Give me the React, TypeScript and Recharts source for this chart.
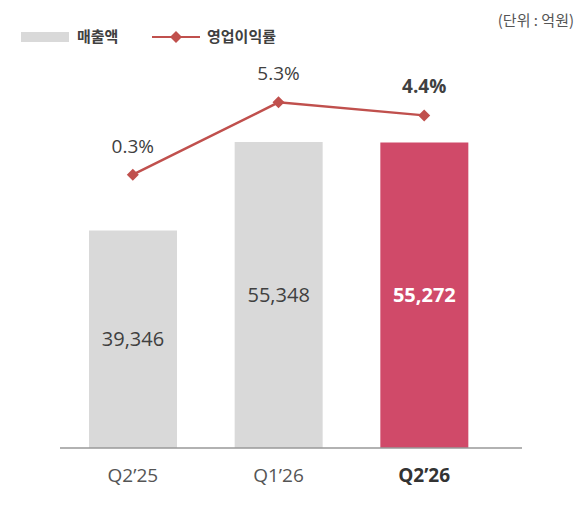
import React from 'react';
import { ComposedChart, Bar, Line, XAxis, YAxis, LabelList, Cell } from 'recharts';

const categories = ["Q2’25", "Q1’26", "Q2’26"];
const revenue = [39346, 55348, 55272];
const margin = [0.3, 5.3, 4.4];
const highlightIndex = 2;

const data = categories.map((c, i) => ({ name: c, revenue: revenue[i], margin: margin[i] }));

const FONT = '"Open Sans", "Noto Sans CJK KR", sans-serif';
const KFONT = '"Noto Sans CJK KR", "Noto Sans", sans-serif';
const GRAY = '#d9d9d9';
const RED_BAR = '#d04a69';
const LINE = '#c0504d';
const TEXT = '#404040';

const Diamond = (props: any) => {
  const { cx, cy } = props;
  if (cx == null || cy == null) return null;
  const r = 6;
  return <path d={`M${cx},${cy - r}L${cx + r},${cy}L${cx},${cy + r}L${cx - r},${cy}Z`} fill={LINE} />;
};

const Tick = (props: any) => {
  const { x, y, payload } = props;
  const bold = payload.index === highlightIndex;
  return (
    <text x={x} y={y + 34} textAnchor="middle" fontFamily={FONT} fontSize={19} fill={bold ? '#333' : '#555'} fontWeight={bold ? 700 : 400}>
      {payload.value}
    </text>
  );
};

const BarLabel = (props: any) => {
  const { x, y, width, height, value, index } = props;
  const hi = index === highlightIndex;
  return (
    <text x={x + width / 2} y={y + height / 2 + 7} textAnchor="middle" fontFamily={FONT} fontSize={20} fill={hi ? '#fff' : TEXT} fontWeight={hi ? 700 : 400}>
      {value.toLocaleString('en-US')}
    </text>
  );
};

const LineLabel = (props: any) => {
  const { x, y, value, index } = props;
  const hi = index === highlightIndex;
  return (
    <text x={x} y={y - 22} textAnchor="middle" fontFamily={FONT} fontSize={19} fill={TEXT} fontWeight={hi ? 700 : 400}>
      {value.toFixed(1)}%
    </text>
  );
};

const LegendBox = () => (
  <svg width={300} height={50} style={{ position: 'absolute', left: 0, top: 0 }}>
    <rect x={21} y={32} width={48} height={10} fill={GRAY} />
    <text x={77} y={42} fontFamily={KFONT} fontSize={15} fontWeight={700} fill={TEXT}>매출액</text>
    <line x1={152} y1={37} x2={200} y2={37} stroke={LINE} strokeWidth={2} />
    <path d="M176,31L182,37L176,43L170,37Z" fill={LINE} />
    <text x={207} y={42} fontFamily={KFONT} fontSize={15} fontWeight={700} fill={TEXT}>영업이익률</text>
  </svg>
);

export default function App() {
  return (
    <div style={{ position: 'absolute', left: 0, top: 0, width: 580, height: 507, background: '#fff' }}>
      <ComposedChart width={580} height={507} data={data} margin={{ top: 61, right: 58, bottom: 19, left: 60 }}>
        <XAxis dataKey="name" height={40} tickLine={false} tickSize={0} tickMargin={0} axisLine={{ stroke: '#999', strokeWidth: 1.5 }} padding={{ left: 0, right: 25 }} tick={<Tick />} interval={0} />
        <YAxis yAxisId="left" hide domain={[0, 70000]} />
        <YAxis yAxisId="right" hide orientation="right" domain={[-18.6, 8.16]} />
        <Bar yAxisId="left" dataKey="revenue" barSize={88} isAnimationActive={false}>
          {data.map((d, i) => (
            <Cell key={d.name} fill={i === highlightIndex ? RED_BAR : GRAY} />
          ))}
          <LabelList dataKey="revenue" content={<BarLabel />} />
        </Bar>
        <Line yAxisId="right" dataKey="margin" stroke={LINE} strokeWidth={2.5} dot={<Diamond />} activeDot={false} isAnimationActive={false}>
          <LabelList dataKey="margin" content={<LineLabel />} />
        </Line>
      </ComposedChart>
      <LegendBox />
      <div style={{ position: 'absolute', right: 6, top: 9, fontFamily: KFONT, fontSize: 15, color: '#555' }}>(단위 : 억원)</div>
    </div>
  );
}
